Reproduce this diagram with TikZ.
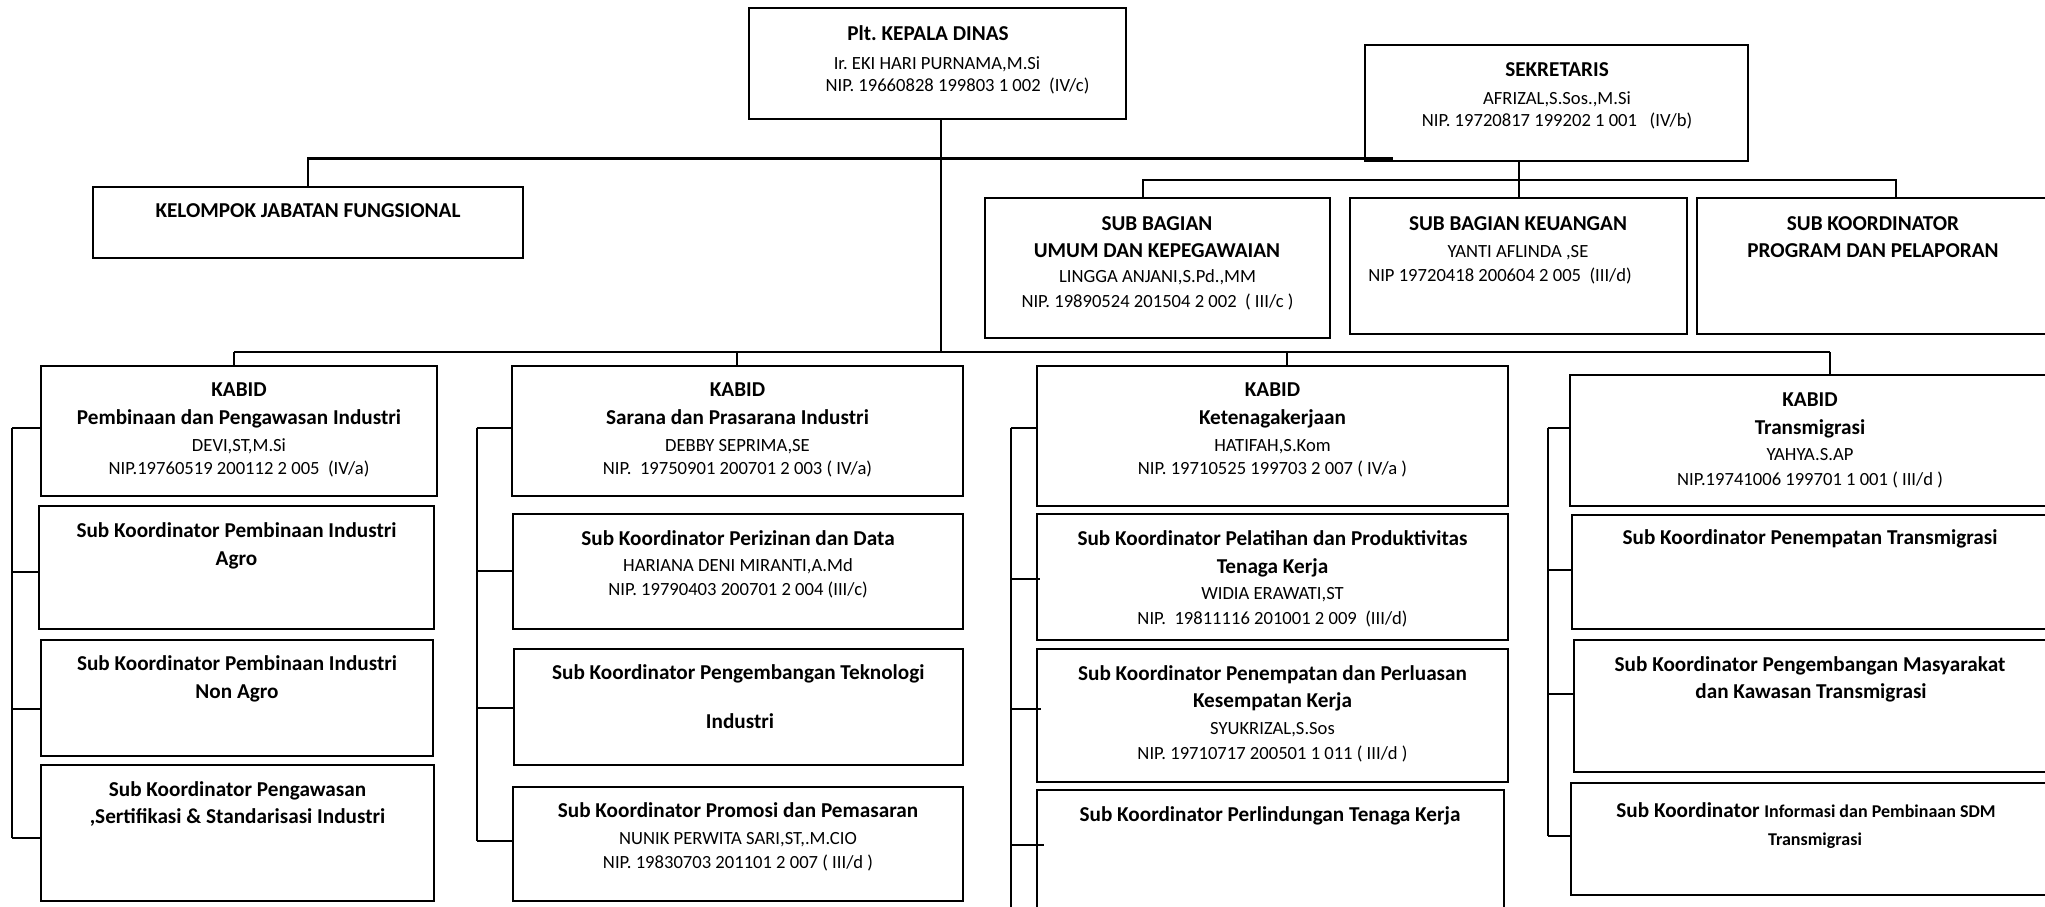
\documentclass[tikz,border=0pt]{standalone}
\usepackage{fontspec}
\setmainfont{Carlito}
\usetikzlibrary{fit}
\frenchspacing
\tikzset{
  obox/.style={draw, line width=1.1pt, inner sep=0pt, rectangle},
  conn/.style={line width=1pt},
  conntop/.style={line width=1.4pt},
  tb/.style={anchor=base, inner sep=0pt, font=\fontsize{10.6}{12}\selectfont\bfseries},
  tr/.style={anchor=base, inner sep=0pt, font=\fontsize{9.3}{11}\selectfont},
  tsmall/.style={anchor=base, inner sep=0pt, font=\fontsize{9}{11}\selectfont\bfseries}
}
\newcommand\OBox[5]{\node[obox, fit={(#2,#3) (#4,#5)}] (#1) {};}
\newcommand\TB[4]{\node[tb] (#1) at (#2,#3+6.8) {#4};}
\newcommand\TR[4]{\node[tr] (#1) at (#2,#3+6) {#4};}
\begin{document}
\begin{tikzpicture}[x=0.5pt, y=-0.5pt]
\useasboundingbox (0,0) rectangle (2045,906);
\fill[white] (0,0) rectangle (2045,906);
\clip (0,0) rectangle (2045,906);

% ---------- boxes ----------
\OBox{kepala}{749}{8}{1126}{119}
\OBox{sek}{1365}{45}{1748}{161}
\OBox{kelompok}{93}{187}{523}{258}
\OBox{umum}{985}{198}{1330}{338}
\OBox{keu}{1350}{198}{1687}{334}
\OBox{prog}{1697}{198}{2060}{334}

\OBox{k1}{41}{366}{437}{496}
\OBox{k1a}{39}{506}{434}{629}
\OBox{k1b}{41}{640}{433}{756}
\OBox{k1c}{41}{765}{434}{901}

\OBox{k2}{512}{366}{963}{496}
\OBox{k2a}{513}{514}{963}{629}
\OBox{k2b}{514}{649}{963}{765}
\OBox{k2c}{513}{787}{963}{901}

\OBox{k3}{1037}{366}{1508}{506}
\OBox{k3a}{1037}{514}{1508}{640}
\OBox{k3b}{1037}{649}{1508}{782}
\OBox{k3c}{1037}{790}{1504}{930}

\OBox{k4}{1570}{375}{2060}{506}
\OBox{k4a}{1572}{515}{2060}{629}
\OBox{k4b}{1574}{640}{2060}{772}
\OBox{k4c}{1571}{783}{2060}{895}

% ---------- connectors ----------
\coordinate (aEnd) at (1393,158.5);
\draw[conntop] (kelompok.north) |- (aEnd);

\coordinate (kbus) at (941,352);
\draw[conn] (kepala.south -| kbus) -- (kbus);
\coordinate (d1) at (234,352);
\coordinate (d2) at (737,352);
\coordinate (d3) at (1287,352);
\coordinate (d4) at (1830,352);
\draw[conn] (d1) -- (d4);
\draw[conn] (d1) -- (k1.north -| d1);
\draw[conn] (d2) -- (k2.north -| d2);
\draw[conn] (d3) -- (k3.north -| d3);
\draw[conn] (d4) -- (k4.north -| d4);

\draw[conn] (keu.north |- sek.south) -- (keu.north);
\coordinate (sbL) at (1143,179.5);
\coordinate (sbR) at (1896,179.5);
\draw[conn] (umum.north -| sbL) -- (sbL) -- (sbR) -- (prog.north -| sbR);

% column 1 spine
\coordinate (s1a) at (12.3,428.4);
\coordinate (s1b) at (12.3,572);
\coordinate (s1c) at (12.3,709);
\coordinate (s1d) at (12.3,837.5);
\draw[conn] (s1a) -- (s1d);
\draw[conn] (s1a) -- (k1.west |- s1a);
\draw[conn] (s1b) -- (k1a.west |- s1b);
\draw[conn] (s1c) -- (k1b.west |- s1c);
\draw[conn] (s1d) -- (k1c.west |- s1d);

% column 2 spine
\coordinate (s2a) at (476.6,428.4);
\coordinate (s2b) at (476.6,571.4);
\coordinate (s2c) at (476.6,707.5);
\coordinate (s2d) at (476.6,841);
\draw[conn] (s2a) -- (s2d);
\draw[conn] (s2a) -- (k2.west |- s2a);
\draw[conn] (s2b) -- (k2a.west |- s2b);
\draw[conn] (s2c) -- (k2b.west |- s2c);
\draw[conn] (s2d) -- (k2c.west |- s2d);

% column 3 spine
\coordinate (s3a) at (1010.7,428.4);
\coordinate (s3b) at (1010.7,579);
\coordinate (s3c) at (1010.7,709);
\coordinate (s3d) at (1010.7,845.4);
\coordinate (s3e) at (1010.7,930);
\draw[conn] (s3a) -- (s3e);
\draw[conn] (s3a) -- (k3.west |- s3a);
\draw[conn] (s3b) -- ([xshift=2pt]k3a.west |- s3b);
\draw[conn] (s3c) -- ([xshift=2.3pt]k3b.west |- s3c);
\draw[conn] (s3d) -- ([xshift=4pt]k3c.west |- s3d);

% column 4 spine
\coordinate (s4a) at (1547.5,428.4);
\coordinate (s4b) at (1547.5,570.3);
\coordinate (s4c) at (1547.5,693.8);
\coordinate (s4d) at (1547.5,836);
\draw[conn] (s4a) -- (s4d);
\draw[conn] (s4a) -- (k4.west |- s4a);
\draw[conn] (s4b) -- (k4a.west |- s4b);
\draw[conn] (s4c) -- (k4b.west |- s4c);
\draw[conn] (s4d) -- (k4c.west |- s4d);

% ---------- texts ----------
\TB{tkep1}{928}{33.3}{Plt. KEPALA DINAS}
\TR{tkep2}{937}{63}{Ir. EKI HARI PURNAMA,M.Si}
\TR{tkep3}{957.5}{85}{NIP. 19660828 199803 1 002~ (IV/c)}

\TB{tsek1}{1557}{70}{SEKRETARIS}
\TR{tsek2}{1557}{98.5}{AFRIZAL,S.Sos.,M.Si}
\TR{tsek3}{1557}{120}{NIP. 19720817 199202 1 001~~ (IV/b)}

\TB{tkel}{308}{211}{KELOMPOK JABATAN FUNGSIONAL}

\TB{tum1}{1157}{223.3}{SUB BAGIAN}
\TB{tum2}{1157}{251}{UMUM DAN KEPEGAWAIAN}
\TR{tum3}{1157.5}{276.7}{LINGGA ANJANI,S.Pd.,MM}
\TR{tum4}{1157.5}{301.7}{NIP. 19890524 201504 2 002~ ( III/c )}

\TB{tke1}{1518}{223.3}{SUB BAGIAN KEUANGAN}
\TR{tke2}{1518}{251}{YANTI AFLINDA ,SE}
\TR{tke3}{1500}{275}{NIP 19720418 200604 2 005~ (III/d)}

\TB{tpr1}{1873}{223.3}{SUB KOORDINATOR}
\TB{tpr2}{1873}{251}{PROGRAM DAN PELAPORAN}

\TB{t11}{239}{389.5}{KABID}
\TB{t12}{239}{417.6}{Pembinaan dan Pengawasan Industri}
\TR{t13}{239}{445.4}{DEVI,ST,M.Si}
\TR{t14}{239}{468.9}{NIP.19760519 200112 2 005~ (IV/a)}
\TB{t1a1}{236.5}{530.6}{Sub Koordinator Pembinaan Industri}
\TB{t1a2}{236.5}{558.4}{Agro}
\TB{t1b1}{237}{664}{Sub Koordinator Pembinaan Industri}
\TB{t1b2}{237}{692}{Non Agro}
\TB{t1c1}{237.5}{789.5}{Sub Koordinator Pengawasan}
\TB{t1c2}{237.5}{817}{,Sertifikasi \& Standarisasi Industri}

\TB{t21}{737.5}{389.5}{KABID}
\TB{t22}{737.5}{417.6}{Sarana dan Prasarana Industri}
\TR{t23}{737.5}{445.4}{DEBBY SEPRIMA,SE}
\TR{t24}{737.5}{468.9}{NIP.~ 19750901 200701 2 003 ( IV/a)}
\TB{t2a1}{738}{538.6}{Sub Koordinator Perizinan dan Data}
\TR{t2a2}{738}{565.6}{HARIANA DENI MIRANTI,A.Md}
\TR{t2a3}{738}{589.8}{NIP. 19790403 200701 2 004 (III/c)}
\TB{t2b1}{738.3}{672.9}{Sub Koordinator Pengembangan Teknologi}
\TB{t2b2}{740}{722}{Industri}
\TB{t2c1}{738}{811}{Sub Koordinator Promosi dan Pemasaran}
\TR{t2c2}{738}{838}{NUNIK PERWITA SARI,ST,.M.CIO}
\TR{t2c3}{738}{862.7}{NIP. 19830703 201101 2 007 ( III/d )}

\TB{t31}{1272.5}{389.5}{KABID}
\TB{t32}{1272.5}{417.6}{Ketenagakerjaan}
\TR{t33}{1272.5}{445.4}{HATIFAH,S.Kom}
\TR{t34}{1272.5}{468.9}{NIP. 19710525 199703 2 007 ( IV/a )}
\TB{t3a1}{1272.5}{538.6}{Sub Koordinator Pelatihan dan Produktivitas}
\TB{t3a2}{1272.5}{566.4}{Tenaga Kerja}
\TR{t3a3}{1272.5}{593.4}{WIDIA ERAWATI,ST}
\TR{t3a4}{1272.5}{618}{NIP.~ 19811116 201001 2 009~ (III/d)}
\TB{t3b1}{1272.5}{674}{Sub Koordinator Penempatan dan Perluasan}
\TB{t3b2}{1272.5}{701}{Kesempatan Kerja}
\TR{t3b3}{1272.5}{728}{SYUKRIZAL,S.Sos}
\TR{t3b4}{1272.5}{753.4}{NIP. 19710717 200501 1 011 ( III/d )}
\TB{t3c1}{1270}{814.7}{Sub Koordinator Perlindungan Tenaga Kerja}

\TB{t41}{1810}{399.6}{KABID}
\TB{t42}{1810}{427.7}{Transmigrasi}
\TR{t43}{1810}{454.8}{YAHYA.S.AP}
\TR{t44}{1810}{479}{NIP.19741006 199701 1 001 ( III/d )}
\TB{t4a1}{1810}{537.8}{Sub Koordinator Penempatan Transmigrasi}
\TB{t4b1}{1810}{665}{Sub Koordinator Pengembangan Masyarakat}
\TB{t4b2}{1811}{692}{dan Kawasan Transmigrasi}
\TB{t4c1}{1806}{811}{Sub Koordinator {\fontsize{9}{11}\selectfont Informasi dan Pembinaan SDM}}
\node[tsmall] (t4c2) at (1815,839+6) {Transmigrasi};
\end{tikzpicture}
\end{document}
